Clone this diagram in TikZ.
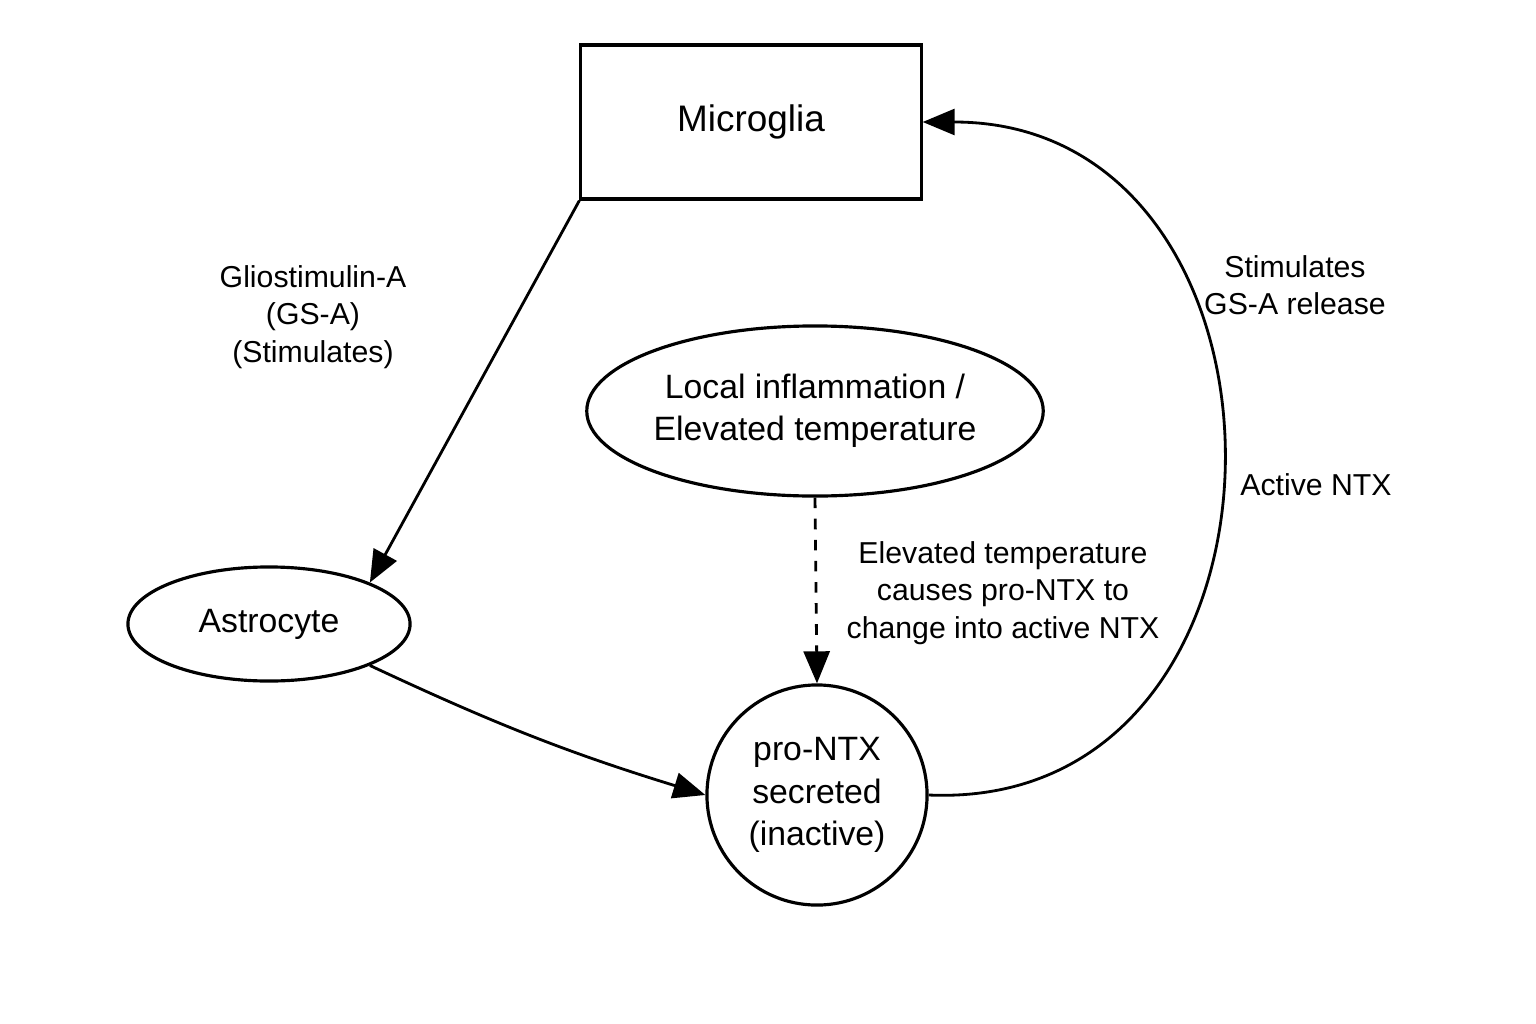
\documentclass[tikz,border=0pt]{standalone}
\usepackage{fontspec}
\setmainfont{Liberation Sans}
\usetikzlibrary{arrows.meta, positioning, calc, shapes.geometric}

\begin{document}
\begin{tikzpicture}[
    x=0.01cm, y=-0.01cm,
    every node/.style={font=\fontsize{8.6pt}{10.6pt}\selectfont, align=center},
    % Standard arrow
    arrow/.style={-{Triangle[length=3.2mm, width=2.6mm]}, line width=0.8pt},
    % Cell / condition shapes
    cellbox/.style={draw, line width=0.9pt, minimum width=3.4cm, minimum height=1.54cm},
    cellblob/.style={draw, ellipse, line width=0.9pt, inner sep=0pt}
]
\useasboundingbox (0,0) rectangle (1536,1024);

% === NODES ===
\node[cellbox, font=\fontsize{10.5pt}{12pt}\selectfont] (microglia) at (751,122) {Microglia};
\node[cellblob, minimum width=2.82cm, minimum height=1.14cm, font=\fontsize{9.6pt}{12pt}\selectfont] (astro) at (269,624) {Astrocyte};
\node[cellblob, minimum width=3.59cm, minimum height=1.7cm, font=\fontsize{9.6pt}{12pt}\selectfont] (inflam) at (815,411) {Local inflammation /\\Elevated temperature};
\node[draw, circle, line width=0.9pt, minimum size=2.2cm, inner sep=0pt, font=\fontsize{9.6pt}{12pt}\selectfont] (prontx) at (817,795) {pro-NTX\\secreted\\(inactive)};

% === LABELS ===
\node (lblgsa) at (313,317) {Gliostimulin-A\\(GS-A)\\(Stimulates)};
\node (lblstim) at (1295,285) {Stimulates\\GS-A release};
\node (lblactive) at (1316,485) {Active NTX};
\node (lbltemp) at (1003,593) {Elevated temperature\\causes pro-NTX to\\change into active NTX};

% === ARROWS ===
\draw[arrow] (microglia.south west) -- (astro.north east);
\draw[arrow] (astro.south east) to[bend right=4] (prontx.west);
\draw[arrow, dashed] (inflam.south) -- (prontx.north);
\draw[arrow] (prontx.east) .. controls (1320,812) and (1320,122) .. (microglia.east);

\end{tikzpicture}
\end{document}
